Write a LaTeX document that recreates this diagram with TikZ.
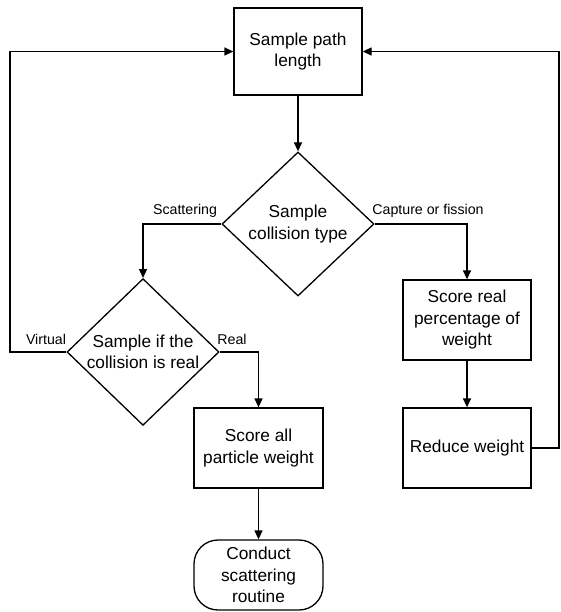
\documentclass[tikz,border=0pt]{standalone}
\usepackage{fontspec}
\setmainfont{Liberation Sans}
\usetikzlibrary{arrows.meta,shapes.geometric}
\begin{document}
\begin{tikzpicture}[x=1pt,y=-1pt,
  every node/.style={font=\fontsize{17.3}{21.5}\selectfont, align=center},
  proc/.style={draw, line width=1.3pt, minimum width=128pt, minimum height=80pt, inner sep=2pt},
  decide/.style={draw, diamond, line width=1.3pt, aspect=1, minimum width=152pt, minimum height=144pt, inner sep=0pt},
  term/.style={draw, line width=1.3pt, rounded corners=24pt, minimum width=129pt, minimum height=70pt, inner sep=0pt},
  lab/.style={font=\fontsize{14.2}{16}\selectfont, inner sep=0pt},
  conn/.style={line width=1.3pt, -{Triangle[length=9pt,width=8pt]}},
  wire/.style={line width=1.3pt}
]
\useasboundingbox (0,0) rectangle (560,612);
\node[proc, minimum height=87pt] (box1) at (298,51.5) {Sample path\\length};
\node[decide] (d1) at (298,224) {Sample\\collision type};
\node[decide] (d2) at (143,352) {Sample if the\\collision is real};
\node[proc] (scor) at (467,320) {Score real\\percentage of\\weight};
\node[proc] (red) at (467,448) {Reduce weight};
\node[proc, minimum width=129pt] (all) at (258.5,448) {Score all\\particle weight};
\node[term] (fin) at (258.5,575) {Conduct\\scattering\\routine};

\node[lab] (lscat) at (185,211) {Scattering};
\node[lab] (lcap) at (428,211) {Capture or fission};
\node[lab] (lvir) at (46,339) {Virtual};
\node[lab] (lreal) at (232,339) {Real};

\coordinate (L) at (10,352);
\coordinate (R) at (559,448);

\draw[conn] (box1.south) -- (d1.north);
\draw[conn] (d1.west) -| (d2.north);
\draw[conn] (d1.east) -| (scor.north);
\draw[conn] (d2.east) -| (all.north);
\draw[conn] (d2.west) -- (L) |- (box1.west);
\draw[conn] (scor.south) -- (red.north);
\draw[conn] (red.east) -- (R) |- (box1.east);
\draw[conn] (all.south) -- (fin.north);
\end{tikzpicture}
\end{document}
